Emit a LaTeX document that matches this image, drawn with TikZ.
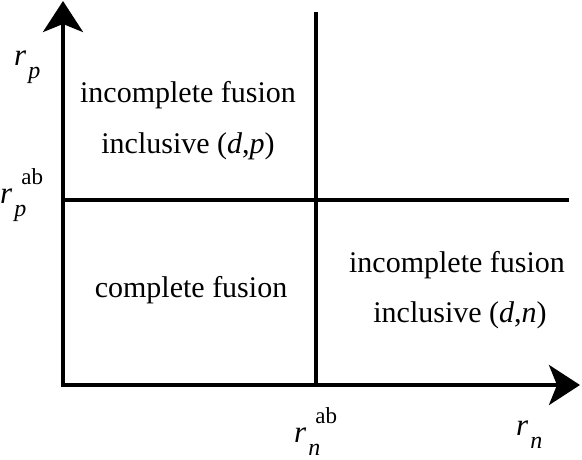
\documentclass[tikz,border=0pt]{standalone}
\usepackage{fontspec}
\setmainfont{Liberation Serif}
\usetikzlibrary{arrows.meta}

\begin{document}
\begin{tikzpicture}[x=1pt,y=-1pt,
  axis/.style={line width=4pt,-{Stealth[length=31pt,width=40pt,inset=8pt]}},
  bar/.style={line width=4pt},
  region/.style={font=\fontsize{30}{36}\selectfont,anchor=base,inner sep=0pt},
  lab/.style={font=\fontsize{31}{36}\selectfont,anchor=base west,inner sep=0pt}]
\newcommand{\rlab}[2]{\textit{r}\hspace{2pt}\rlap{\raisebox{-13pt}{\fontsize{24}{24}\selectfont\textit{#1}}}\hspace{7pt}\raisebox{19pt}{\fontsize{23}{23}\selectfont #2}}
\useasboundingbox (0,0) rectangle (582,459);

% ---------- axes ----------
\coordinate (O) at (63,385);
\coordinate (xstart) at (61,385);
\coordinate (ystart) at (63,387);
\coordinate (xtip) at (580,385);
\coordinate (ytip) at (63,1);
\draw[axis] (xstart) -- (xtip);
\draw[axis] (ystart) -- (ytip);

% ---------- threshold lines ----------
\coordinate (nab) at (316,385);
\coordinate (nabtop) at (316,12);
\coordinate (pab) at (63,200);
\coordinate (pabend) at (569,200);
\draw[bar] (nab) -- (nabtop);
\draw[bar] (pab) -- (pabend);

% ---------- regions ----------
\node[region] (incp1) at (188,102) {incomplete fusion};
\node[region] (incp2) at (188,153) {inclusive (\textit{d},\textit{p})};
\node[region] (comp)  at (191,297) {complete fusion};
\node[region] (incn1) at (457,272) {incomplete fusion};
\node[region] (incn2) at (460,322) {inclusive (\textit{d},\textit{n})};

% ---------- axis labels ----------
\node[lab] (rp)   at (14,65)   {\rlab{p}{}};
\node[lab] (rpab) at (0,203)   {\rlab{p}{ab}};
\node[lab] (rnab) at (294,442) {\rlab{n}{ab}};
\node[lab] (rn)   at (516,435) {\rlab{n}{}};

\end{tikzpicture}
\end{document}
